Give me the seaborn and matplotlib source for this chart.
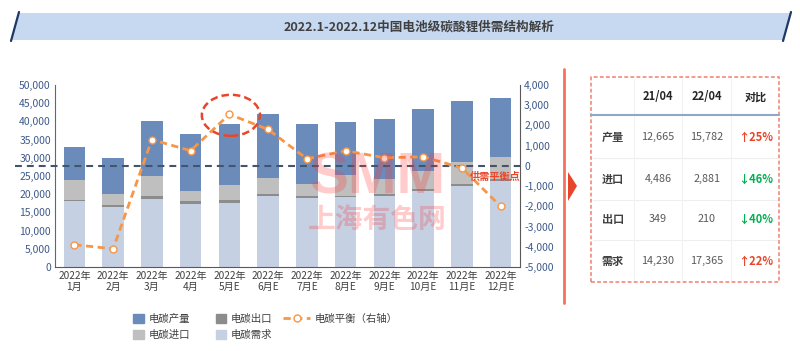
import numpy as np
import seaborn as sns
import matplotlib.pyplot as plt
from matplotlib.patches import Polygon, Ellipse, Rectangle, Patch
from matplotlib.lines import Line2D
from matplotlib.ticker import FuncFormatter, MultipleLocator

# ================= 数据 =================
months = ['2022年\n1月', '2022年\n2月', '2022年\n3月', '2022年\n4月', '2022年\n5月E', '2022年\n6月E',
          '2022年\n7月E', '2022年\n8月E', '2022年\n9月E', '2022年\n10月E', '2022年\n11月E', '2022年\n12月E']
production = [9100, 10000, 15100, 15600, 16800, 17500, 16300, 14700, 16300, 17000, 16800, 16200]
imports = [5400, 2950, 5550, 2900, 4100, 4400, 3500, 5600, 4200, 4900, 6100, 5900]
exports = [500, 450, 600, 600, 650, 600, 500, 500, 500, 500, 500, 500]
demand = [18000, 16600, 18800, 17400, 17700, 19500, 18900, 19100, 19600, 21000, 22300, 23700]
balance = [-3900, -4100, 1300, 750, 2550, 1800, 350, 750, 400, 450, -100, -2000]

table_header = ['21/04', '22/04', '对比']
table_rows = ['产量', '进口', '出口', '需求']
vals_2104 = ['12,665', '4,486', '349', '14,230']
vals_2204 = ['15,782', '2,881', '210', '17,365']
changes = ['↑25%', '↓46%', '↓40%', '↑22%']

# 配色
c_prod = '#6B8CBA'
c_exp = '#8C8C8C'
c_imp = '#BFBFBF'
c_dem = '#C5D0E3'
c_line = '#F79646'
c_red = '#E8462A'
c_green = '#00B050'
c_tick = '#3D5A8A'

sns.set_style('white')
plt.rcParams['font.family'] = ['Noto Sans CJK SC', 'DejaVu Sans']

W, H = 800, 351
fig = plt.figure(figsize=(W / 100, H / 100), dpi=100)


def fx(x):
    return x / W


def fy(y):
    return 1 - y / H


# ================= 标题横幅 =================
banner = Polygon([(fx(12), fy(40)), (fx(19), fy(13)), (fx(790), fy(13)), (fx(783), fy(40))],
                 closed=True, transform=fig.transFigure, facecolor='#C6D9F1', edgecolor='none')
fig.patches.append(banner)
fig.add_artist(Line2D([fx(11), fx(19)], [fy(41), fy(12)], color='#1F3864', lw=1.6, transform=fig.transFigure))
fig.add_artist(Line2D([fx(783), fx(791)], [fy(41), fy(12)], color='#1F3864', lw=1.6, transform=fig.transFigure))
fig.text(fx(419), fy(27.5), '2022.1-2022.12中国电池级碳酸锂供需结构解析', ha='center', va='center',
         fontsize=9.1, fontweight='bold', color='#404040')

# ================= 柱状图 =================
ax = fig.add_axes([fx(55), 84 / H, 465 / W, 182 / H])

stack_dem = np.array(demand)
stack_exp = stack_dem + np.array(exports)
stack_imp = stack_exp + np.array(imports)
stack_prod = stack_imp + np.array(production)

for vals, c in [(stack_prod, c_prod), (stack_imp, c_imp), (stack_exp, c_exp), (stack_dem, c_dem)]:
    sns.barplot(x=months, y=vals, color=c, width=0.55, saturation=1, errorbar=None,
                linewidth=0, ax=ax, zorder=2)

ax.set_ylim(0, 50000)
ax.yaxis.set_major_locator(MultipleLocator(5000))
ax.yaxis.set_major_formatter(FuncFormatter(lambda v, p: f'{v:,.0f}'))
ax.tick_params(axis='y', labelsize=7.5, labelcolor=c_tick, length=0, pad=3)
ax.tick_params(axis='x', labelsize=7.3, labelcolor='#404040', length=0, pad=3)
for lab in ax.get_xticklabels():
    lab.set_linespacing(1.05)
ax.set_xlabel('')
ax.set_ylabel('')
ax.spines['top'].set_visible(False)
ax.spines['left'].set_color('#4F6A8F')
ax.spines['bottom'].set_color('#595959')
ax.spines['right'].set_visible(False)

# ================= 右轴折线 =================
ax2 = ax.twinx()
ax2.axhline(0, xmin=-0.086, xmax=1, color='#44546A', lw=1.5, dashes=(3.3, 2.4), clip_on=False, zorder=3)
sns.lineplot(x=np.arange(len(months)), y=balance, ax=ax2, color=c_line, lw=2, marker='o',
             markersize=5, markerfacecolor='white', markeredgecolor=c_line, markeredgewidth=1, zorder=5)
ax2.get_lines()[-1].set_dashes([2.6, 1.6])
ax2.set_ylim(-5000, 4000)
ax2.yaxis.set_major_locator(MultipleLocator(1000))
ax2.yaxis.set_major_formatter(FuncFormatter(lambda v, p: f'{v:,.0f}'))
ax2.tick_params(axis='y', labelsize=7.5, labelcolor=c_tick, length=0, pad=3)
ax2.set_xlabel('')
ax2.set_ylabel('')
for s in ['top', 'left', 'bottom']:
    ax2.spines[s].set_visible(False)
ax2.spines['right'].set_color('#595959')
ax.set_xlim(-0.5, len(months) - 0.5)

ax2.add_patch(Ellipse((4.04, 2500), width=1.5, height=2030, fill=False, edgecolor=c_red, lw=1.8,
                      linestyle=(0, (3, 1.6)), clip_on=False, zorder=6))
ax2.text(10.85, -550, '供需平衡点', color=c_red, fontsize=7.3, fontweight='bold', ha='center', va='center', zorder=7)

# 水印
fig.text(fx(377), fy(193), 'SMM', ha='center', va='baseline', fontsize=42, fontweight='bold',
         family='Liberation Sans', color='#FF3333', alpha=0.25, zorder=10)
fig.text(fx(377), fy(220), '上海有色网', ha='center', va='center', fontsize=20, fontweight='bold',
         color='#FF3333', alpha=0.25, zorder=10)

# ================= 图例 =================
bar_handles = [Patch(color=c_prod, label='电碳产量'), Patch(color=c_imp, label='电碳进口'),
               Patch(color=c_exp, label='电碳出口'), Patch(color=c_dem, label='电碳需求')]
leg1 = fig.legend(handles=bar_handles, ncol=2, loc='center left', bbox_to_anchor=(fx(124), fy(327)),
                  frameon=False, fontsize=7.5, handlelength=1.0, handleheight=1.0, handletextpad=0.5,
                  columnspacing=2.4, labelspacing=0.55, labelcolor='#404040')
line_handle = Line2D([], [], color=c_line, lw=2, dashes=(2.6, 1.6), marker='o', markersize=5,
                     markerfacecolor='white', markeredgecolor=c_line, label='电碳平衡（右轴）')
fig.legend(handles=[line_handle], loc='center left', bbox_to_anchor=(fx(274), fy(318.5)),
           frameon=False, fontsize=7.5, handlelength=2.6, handletextpad=0.4, labelcolor='#404040')

# ================= 右侧表格 =================
fig.add_artist(Line2D([fx(564), fx(564)], [fy(69), fy(303)], color='#F4735C', lw=2, transform=fig.transFigure))
fig.patches.append(Polygon([(fx(568), fy(172)), (fx(577), fy(186)), (fx(568), fy(201))], closed=True,
                           transform=fig.transFigure, facecolor=c_red, edgecolor='none'))
fig.patches.append(Rectangle((fx(591), fy(282)), fx(779) - fx(591), fy(77) - fy(282), fill=False,
                             edgecolor='#F08070', lw=1.1, linestyle=(0, (2.5, 1.5)), transform=fig.transFigure))

col_x = [613, 658, 707, 756]
row_y = [137, 179, 219, 261]
for y in [158, 200, 240]:
    fig.add_artist(Line2D([fx(593), fx(777)], [fy(y), fy(y)], color='#EEEEEE', lw=0.8, transform=fig.transFigure))
for x in [634, 682, 731]:
    fig.add_artist(Line2D([fx(x), fx(x)], [fy(79), fy(280)], color='#F2F2F2', lw=0.8, transform=fig.transFigure))
fig.add_artist(Line2D([fx(591), fx(779)], [fy(115), fy(115)], color='#8EA9C8', lw=1.5, transform=fig.transFigure))

for x, h in zip(col_x[1:], table_header):
    fig.text(fx(x), fy(97), h, ha='center', va='center', fontsize=8, fontweight='bold', color='#262626')
for i, name in enumerate(table_rows):
    y = fy(row_y[i])
    fig.text(fx(col_x[0]), y, name, ha='center', va='center', fontsize=8, fontweight='bold', color='#404040')
    fig.text(fx(col_x[1]), y, vals_2104[i], ha='center', va='center', fontsize=7.8, color='#595959')
    fig.text(fx(col_x[2]), y, vals_2204[i], ha='center', va='center', fontsize=7.8, color='#595959')
    cc = c_red if changes[i].startswith('↑') else c_green
    fig.text(fx(col_x[3]), y, changes[i], ha='center', va='center', fontsize=8, fontweight='bold', color=cc)

fig.savefig('out.png', dpi=100)
